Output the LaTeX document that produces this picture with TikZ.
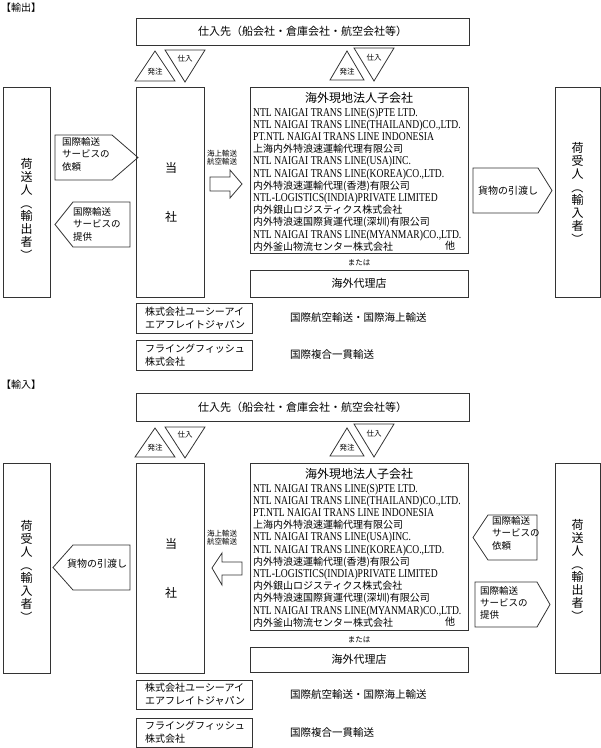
\documentclass[tikz,border=0pt]{standalone}
\usepackage{fontspec}
\usepackage{graphicx}
\setmainfont{Noto Sans CJK JP}
\newfontfamily\latn[FakeStretch=0.80]{Liberation Serif}
\newcommand\fz[2]{\fontsize{#1pt}{#2pt}\selectfont}
\newcommand\lt[1]{{\latn\fontsize{12pt}{12.2pt}\selectfont #1}}
\newcommand\vlp{\rotatebox[origin=c]{-90}{（}}
\newcommand\vrp{\rotatebox[origin=c]{-90}{）}}
\newcommand\complist{%
\lt{NTL NAIGAI TRANS LINE(S)PTE LTD.}\\
\lt{NTL NAIGAI TRANS LINE(THAILAND)CO.,LTD.}\\
\lt{PT.NTL NAIGAI TRANS LINE INDONESIA}\\
上海内外特浪速運輸代理有限公司\\
\lt{NTL NAIGAI TRANS LINE(USA)INC.}\\
\lt{NTL NAIGAI TRANS LINE(KOREA)CO.,LTD.}\\
内外特浪速運輸代理(香港)有限公司\\
\lt{NTL-LOGISTICS(INDIA)PRIVATE LIMITED}\\
内外銀山ロジスティクス株式会社\\
内外特浪速国際貨運代理(深圳)有限公司\\
\lt{NTL NAIGAI TRANS LINE(MYANMAR)CO.,LTD.}\\
内外釜山物流センター株式会社}
\begin{document}
\begin{tikzpicture}[x=1pt,y=-1pt,
  ln/.style={draw=black!80, line width=0.8pt, line join=miter},
  bx/.style={ln, inner sep=0pt, anchor=north west},
  vt/.style={align=center, inner sep=0pt, font=\fz{12}{13}},
  tri/.style={inner sep=0pt, font=\fz{7.5}{8}},
  big/.style={inner sep=0pt, font=\fz{11}{13}},
  mid/.style={inner sep=0pt, font=\fz{12}{14}},
  arr/.style={inner sep=0pt, anchor=north west, align=left, font=\fz{9.5}{12.3}},
  mode/.style={inner sep=0pt, align=center, font=\fz{7.5}{7.5}},
  lst/.style={inner sep=0pt, anchor=north west, align=left, font=\fz{10}{12.2}},
  sm/.style={inner sep=0pt, font=\fz{7.5}{8}},
  two/.style={inner sep=0pt, anchor=west, align=left, font=\fz{10}{13}},
  op/.style={inner sep=0pt, anchor=west, font=\fz{10.5}{12}},
  ttl/.style={inner sep=0pt, anchor=west, font=\fz{10}{12}}
]
\useasboundingbox (0,0) rectangle (601,748);

%================ EXPORT ================
\node[ttl] (etitle) at (1,8) {【輸出】};
\node[bx, minimum width=333pt, minimum height=27pt] (esup) at (136,18) {};
\node[big] (esupt) at (302.5,31.5) {仕入先（船会社・倉庫会社・航空会社等）};
\draw[ln] (135,81) -- (155,51) -- (175,81) -- cycle;
\node[tri] (eord1) at (155,72) {発注};
\draw[ln] (165,50) -- (205,50) -- (185,82) -- cycle;
\node[tri] (ebuy1) at (185,59) {仕入};
\draw[ln] (330,80) -- (347,51) -- (364,80) -- cycle;
\node[tri] (eord2) at (347,72) {発注};
\draw[ln] (354,48) -- (394,48) -- (374,81) -- cycle;
\node[tri] (ebuy2) at (374,58) {仕入};

\node[bx, minimum width=47pt, minimum height=210pt] (esend) at (3,87) {};
\node[vt] (esendt) at (26.5,210) {荷\\送\\人\\\vlp\\輸\\出\\者\\\vrp};
\node[bx, minimum width=68pt, minimum height=210pt] (eco) at (136,87) {};
\node[mid] (eco1) at (171,168) {当};
\node[mid] (eco2) at (171,217) {社};

\draw[ln] (55,135) -- (112,135) -- (138,157.5) -- (112,180) -- (55,180) -- cycle;
\node[arr] (ereq) at (62,137.5) {国際輸送\\サービスの\\依頼};
\draw[ln] (73,202) -- (130,202) -- (130,247) -- (73,247) -- (55,224.5) -- cycle;
\node[arr] (eprov) at (73,207.5) {国際輸送\\サービスの\\提供};

\node[mode] (emode) at (222,157.7) {海上輸送\\航空輸送};
\draw[ln] (210,177) -- (230,177) -- (230,170) -- (242,184) -- (230,198) -- (230,191) -- (210,191) -- cycle;

\node[bx, minimum width=218pt, minimum height=166pt] (esub) at (250,87) {};
\node[mid] (esubt) at (359,98) {海外現地法人子会社};
\node[lst] (elist) at (253,107.5) {\complist};
\node[inner sep=0pt, font=\fz{10}{12}] (eother) at (450,246) {他};
\node[sm] (eor) at (359,263) {または};
\node[bx, minimum width=218pt, minimum height=27pt] (eagent) at (250,270) {};
\node[big] (eagentt) at (359,283.5) {海外代理店};

\draw[ln] (473,168) -- (538,168) -- (552,190.5) -- (538,213) -- (473,213) -- cycle;
\node[inner sep=0pt, font=\fz{10}{12}] (edeliv) at (508,190.5) {貨物の引渡し};
\node[bx, minimum width=45pt, minimum height=210pt] (ercv) at (555,87) {};
\node[vt] (ercvt) at (577.5,194) {荷\\受\\人\\\vlp\\輸\\入\\者\\\vrp};

\node[bx, minimum width=116pt, minimum height=30pt] (euci) at (136,303) {};
\node[two] (eucit) at (145,318) {株式会社ユーシーアイ\\エアフレイトジャパン};
\node[op] (euciop) at (290,318) {国際航空輸送・国際海上輸送};
\node[bx, minimum width=116pt, minimum height=30pt] (eff) at (136,340) {};
\node[two] (efft) at (145,355) {フライングフィッシュ\\株式会社};
\node[op] (effop) at (290,355) {国際複合一貫輸送};

%================ IMPORT ================
\begin{scope}[shift={(0,376)}]
\node[ttl] (ititle) at (1,9) {【輸入】};
\node[bx, minimum width=333pt, minimum height=28pt] (isup) at (136,17) {};
\node[big] (isupt) at (302.5,31) {仕入先（船会社・倉庫会社・航空会社等）};
\draw[ln] (135,81) -- (155,52) -- (175,81) -- cycle;
\node[tri] (iord1) at (155,72) {発注};
\draw[ln] (165,51) -- (205,51) -- (185,82) -- cycle;
\node[tri] (ibuy1) at (185,59) {仕入};
\draw[ln] (330,80) -- (347,52) -- (364,80) -- cycle;
\node[tri] (iord2) at (347,72) {発注};
\draw[ln] (354,48) -- (394,48) -- (374,81) -- cycle;
\node[tri] (ibuy2) at (374,58) {仕入};

\node[bx, minimum width=47pt, minimum height=210pt] (ircv) at (3,87) {};
\node[vt] (ircvt) at (26.5,196) {荷\\受\\人\\\vlp\\輸\\入\\者\\\vrp};
\node[bx, minimum width=68pt, minimum height=210pt] (ico) at (136,87) {};
\node[mid] (ico1) at (171,168) {当};
\node[mid] (ico2) at (171,217) {社};

\draw[ln] (53,191.5) -- (73,169) -- (130,169) -- (130,214) -- (73,214) -- cycle;
\node[inner sep=0pt, font=\fz{10}{12}] (ideliv) at (97,188) {貨物の引渡し};

\node[mode] (imode) at (222,161.7) {海上輸送\\航空輸送};
\draw[ln] (212,192) -- (222,177) -- (222,186) -- (242,186) -- (242,199) -- (222,199) -- (222,209) -- cycle;

\node[bx, minimum width=218pt, minimum height=167pt] (isub) at (250,87) {};
\node[mid] (isubt) at (359,98) {海外現地法人子会社};
\node[lst] (ilist) at (253,107.5) {\complist};
\node[inner sep=0pt, font=\fz{10}{12}] (iother) at (450,246) {他};
\node[sm] (ior) at (359,264) {または};
\node[bx, minimum width=218pt, minimum height=25pt] (iagent) at (250,271) {};
\node[big] (iagentt) at (359,283.5) {海外代理店};

\draw[ln] (473,161.5) -- (488,139) -- (537,139) -- (537,184) -- (488,184) -- cycle;
\node[arr] (ireq) at (492,140.5) {国際輸送\\サービスの\\依頼};
\draw[ln] (475,206) -- (537,206) -- (550,228.5) -- (537,251) -- (475,251) -- cycle;
\node[arr] (iprov) at (480,210) {国際輸送\\サービスの\\提供};

\node[bx, minimum width=45pt, minimum height=210pt] (isend) at (555,87) {};
\node[vt] (isendt) at (577.5,195) {荷\\送\\人\\\vlp\\輸\\出\\者\\\vrp};

\node[bx, minimum width=116pt, minimum height=29pt] (iuci) at (136,304) {};
\node[two] (iucit) at (145,318.5) {株式会社ユーシーアイ\\エアフレイトジャパン};
\node[op] (iuciop) at (290,318.5) {国際航空輸送・国際海上輸送};
\node[bx, minimum width=116pt, minimum height=29pt] (iff) at (136,342) {};
\node[two] (ifft) at (145,356.5) {フライングフィッシュ\\株式会社};
\node[op] (iffop) at (290,356.5) {国際複合一貫輸送};
\end{scope}
\end{tikzpicture}
\end{document}
